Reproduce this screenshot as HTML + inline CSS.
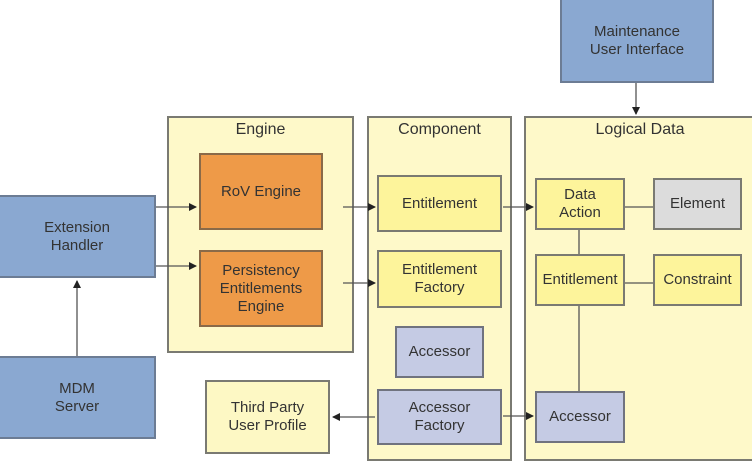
<!DOCTYPE html>
<html><head><style>
body{margin:0;width:752px;height:456px;background:#fff;position:relative;overflow:hidden;font-family:"Liberation Sans",sans-serif;}
.b{position:absolute;box-sizing:border-box;border:2px solid #7a7a72;display:flex;align-items:center;justify-content:center;text-align:center;font-size:15px;line-height:18px;color:#333;}
.c{background:#fef9c9;align-items:flex-start;padding-top:3px;font-size:16px;}
.y{background:#fdf49b;}
.o{background:#ee9a48;border-color:#8a6a48;}
.bl{background:#8aa8d1;border-color:#6c7c94;}
.lb{background:#c5cbe4;border-color:#70737f;}
.g{background:#dcdcdc;}
</style></head><body>
<div class="b bl" style="left:560px;top:-2px;width:154px;height:85px;">Maintenance<br>User Interface</div>
<div class="b c" style="left:167px;top:116px;width:187px;height:237px;">Engine</div>
<div class="b c" style="left:367px;top:116px;width:145px;height:345px;">Component</div>
<div class="b c" style="left:524px;top:116px;width:232px;height:345px;">Logical Data</div>
<div class="b o" style="left:199px;top:153px;width:124px;height:77px;">RoV Engine</div>
<div class="b o" style="left:199px;top:250px;width:124px;height:77px;">Persistency<br>Entitlements<br>Engine</div>
<div class="b bl" style="left:-2px;top:195px;width:158px;height:83px;">Extension<br>Handler</div>
<div class="b bl" style="left:-2px;top:356px;width:158px;height:83px;">MDM<br>Server</div>
<div class="b y" style="left:205px;top:380px;width:125px;height:74px;background:#fdf8c4;">Third Party<br>User Profile</div>
<div class="b y" style="left:377px;top:175px;width:125px;height:57px;">Entitlement</div>
<div class="b y" style="left:377px;top:250px;width:125px;height:58px;">Entitlement<br>Factory</div>
<div class="b lb" style="left:395px;top:326px;width:89px;height:52px;">Accessor</div>
<div class="b lb" style="left:377px;top:389px;width:125px;height:56px;">Accessor<br>Factory</div>
<svg style="position:absolute;left:0;top:0" width="752" height="456">
<defs><marker id="a" markerWidth="8" markerHeight="8" refX="7" refY="4" orient="auto" markerUnits="userSpaceOnUse"><path d="M0,0L8,4L0,8z" fill="#222"/></marker></defs>
<g stroke="#555" stroke-width="1.3" fill="none">
<line x1="636" y1="83" x2="636" y2="114" marker-end="url(#a)"/>
<line x1="156" y1="207" x2="196" y2="207" marker-end="url(#a)"/>
<line x1="156" y1="266" x2="196" y2="266" marker-end="url(#a)"/>
<line x1="77" y1="356" x2="77" y2="281" marker-end="url(#a)"/>
<line x1="343" y1="207" x2="375" y2="207" marker-end="url(#a)"/>
<line x1="343" y1="283" x2="375" y2="283" marker-end="url(#a)"/>
<line x1="375" y1="417" x2="333" y2="417" marker-end="url(#a)"/>
<line x1="503" y1="207" x2="533" y2="207" marker-end="url(#a)"/>
<line x1="503" y1="416" x2="533" y2="416" marker-end="url(#a)"/>
<line x1="579" y1="229" x2="579" y2="392"/>
<line x1="624" y1="207" x2="653" y2="207"/>
<line x1="624" y1="283" x2="653" y2="283"/>
</g></svg>
<div class="b y" style="left:535px;top:178px;width:90px;height:52px;">Data<br>Action</div>
<div class="b g" style="left:653px;top:178px;width:89px;height:52px;">Element</div>
<div class="b y" style="left:535px;top:254px;width:90px;height:52px;">Entitlement</div>
<div class="b y" style="left:653px;top:254px;width:89px;height:52px;">Constraint</div>
<div class="b lb" style="left:535px;top:391px;width:90px;height:52px;">Accessor</div>
</body></html>
